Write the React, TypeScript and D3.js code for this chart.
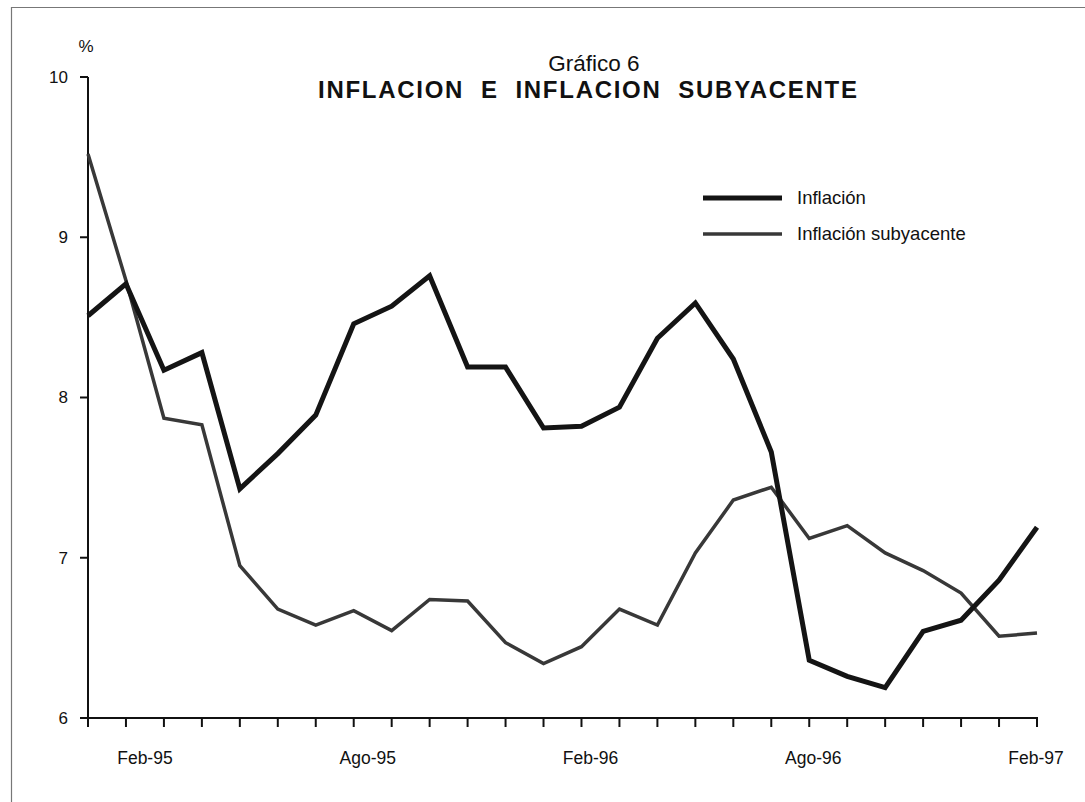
import React from "react";
import * as d3 from "d3";

const months = [
  "Ene-95","Feb-95","Mar-95","Abr-95","May-95","Jun-95","Jul-95","Ago-95","Sep-95","Oct-95","Nov-95","Dic-95",
  "Ene-96","Feb-96","Mar-96","Abr-96","May-96","Jun-96","Jul-96","Ago-96","Sep-96","Oct-96","Nov-96","Dic-96",
  "Ene-97","Feb-97",
];
const inflacion = [
  8.51, 8.71, 8.17, 8.28, 7.43, 7.65, 7.89, 8.46, 8.57, 8.76, 8.19, 8.19,
  7.81, 7.82, 7.94, 8.37, 8.59, 8.24, 7.66, 6.36, 6.26, 6.19, 6.54, 6.61,
  6.86, 7.19,
];
const subyacente = [
  9.52, 8.73, 7.87, 7.83, 6.95, 6.68, 6.58, 6.67, 6.545, 6.74, 6.73, 6.47,
  6.34, 6.445, 6.68, 6.58, 7.03, 7.36, 7.44, 7.12, 7.2, 7.03, 6.92, 6.78,
  6.51, 6.53,
];
const xLabels = ["Feb-95", "Ago-95", "Feb-96", "Ago-96", "Feb-97"];
const yTicks = [6, 7, 8, 9, 10];
const seriesNames = ["Inflación", "Inflación subyacente"];

const W = 1085;
const H = 802;
const FONT = "'Liberation Sans', Arial, sans-serif";

export default function App() {
  const x = d3.scaleLinear().domain([0, months.length - 1]).range([88, 1037]);
  const y = d3.scaleLinear().domain([6, 10]).range([718, 77]);
  const line = d3
    .line<number>()
    .x((_, i) => x(i))
    .y((d) => y(d));

  const labelIdx = xLabels.map((l) => months.indexOf(l));
  const labelX = d3
    .scaleLinear()
    .domain([labelIdx[0], labelIdx[labelIdx.length - 1]])
    .range([x(labelIdx[0]) + 19, x(labelIdx[labelIdx.length - 1]) - 1]);

  return (
    <svg
      width={W}
      height={H}
      style={{ position: "absolute", left: 0, top: 0, background: "#fff" }}
      fontFamily={FONT}
    >
      <rect x={0} y={0} width={W} height={H} fill="#fff" />
      {/* scan frame */}
      <line x1={12} x2={W} y1={7.5} y2={7.5} stroke="#777" strokeWidth={1.2} />
      <line x1={11.5} x2={11.5} y1={7} y2={H} stroke="#777" strokeWidth={1.2} />

      {/* titles */}
      <text x={594} y={71} textAnchor="middle" fontSize={22.5} fill="#111">
        Gráfico 6
      </text>
      <text
        x={318}
        y={98}
        fontSize={24}
        fontWeight="bold"
        fill="#111"
        textLength={539}
        lengthAdjust="spacing"
        style={{ whiteSpace: "pre" }}
        xmlSpace="preserve"
      >
        {"INFLACION  E  INFLACION  SUBYACENTE"}
      </text>

      {/* y axis */}
      <text x={86} y={52} textAnchor="middle" fontSize={17} fill="#111">
        %
      </text>
      <line x1={88} x2={88} y1={y(10)} y2={y(6)} stroke="#111" strokeWidth={2} />
      {yTicks.map((t) => (
        <g key={t}>
          <line x1={80} x2={88} y1={y(t)} y2={y(t)} stroke="#111" strokeWidth={2} />
          <text x={68} y={y(t)} dy="0.35em" textAnchor="end" fontSize={17} fill="#111">
            {t}
          </text>
        </g>
      ))}

      {/* x axis */}
      <line x1={80} x2={x(months.length - 1) + 1} y1={y(6)} y2={y(6)} stroke="#111" strokeWidth={2} />
      {months.map((m, i) => (
        <line key={m} x1={x(i)} x2={x(i)} y1={y(6)} y2={y(6) + 9} stroke="#111" strokeWidth={2} />
      ))}
      {xLabels.map((l, k) => (
        <text key={l} x={labelX(labelIdx[k])} y={764} textAnchor="middle" fontSize={17.5} fill="#111">
          {l}
        </text>
      ))}

      {/* series */}
      <path
        d={line(subyacente) || ""}
        fill="none"
        stroke="#383838"
        strokeWidth={3.5}
        strokeLinejoin="miter"
      />
      <path
        d={line(inflacion) || ""}
        fill="none"
        stroke="#141414"
        strokeWidth={5}
        strokeLinejoin="miter"
      />

      {/* legend */}
      <line x1={703} x2={782} y1={198} y2={198} stroke="#141414" strokeWidth={5} />
      <text x={797} y={198} dy="0.35em" fontSize={18.5} fill="#111">
        {seriesNames[0]}
      </text>
      <line x1={703} x2={782} y1={234} y2={234} stroke="#383838" strokeWidth={3.5} />
      <text x={797} y={234} dy="0.35em" fontSize={18.5} fill="#111">
        {seriesNames[1]}
      </text>
    </svg>
  );
}
